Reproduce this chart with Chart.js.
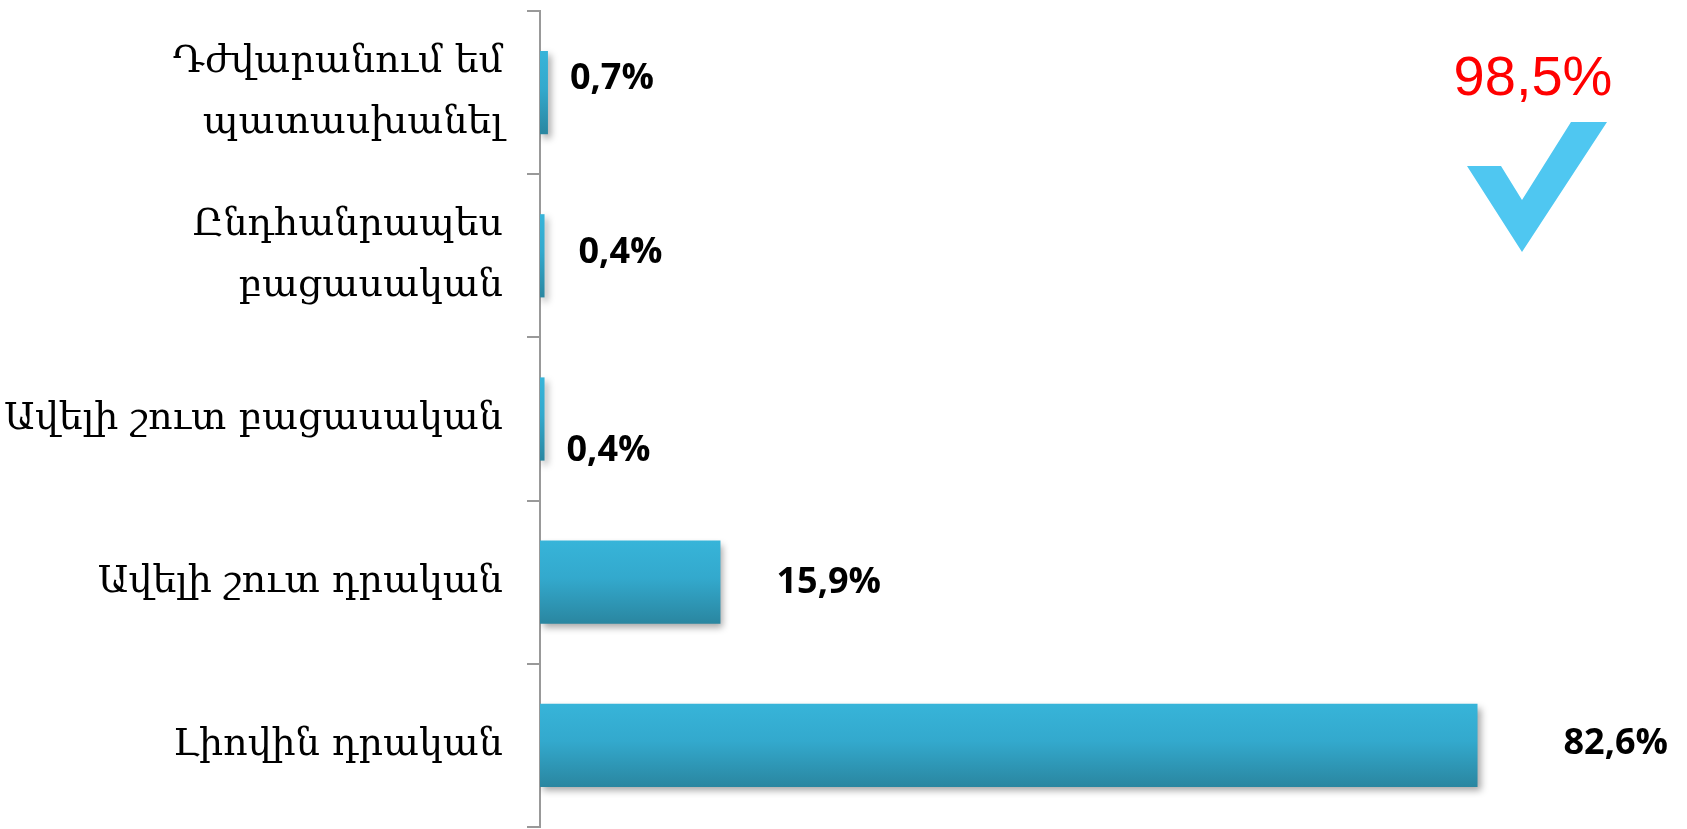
<!DOCTYPE html>
<html>
<head>
<meta charset="utf-8">
<script src="https://cdn.jsdelivr.net/npm/chart.js@4.4.1/dist/chart.umd.min.js"></script>
<style>
  html, body { margin: 0; padding: 0; background: #fff; }
  #wrap { width: 1687px; height: 829px; position: relative; }
</style>
</head>
<body>
<div id="wrap"><canvas id="bar-chart"></canvas></div>
<script>
// Categories (top to bottom) and their shares in %
const categories = [
  ["Դժվարանում եմ", "պատասխանել"],
  ["Ընդհանրապես", "բացասական"],
  "Ավելի շուտ բացասական",
  "Ավելի շուտ դրական",
  "Լիովին դրական"
];
const values = [0.7, 0.4, 0.4, 15.9, 82.6];
// the two positive answers are summed for the red callout
const positiveIdx = [3, 4];

function fmt(v) {
  return v.toFixed(1).replace(".", ",") + "%";
}

// hand placed label offsets (px from bar end / bar centre), like the original
const labelOffsets = [
  { dx: 22, dy: -14 },
  { dx: 34, dy: -3 },
  { dx: 22, dy: 32 },
  { dx: 56, dy: 1 },
  { dx: 86, dy: -2 }
];

const barPct = 0.51;

// gradient fill for each bar
function barFill(context) {
  const chart = context.chart;
  if (!chart.chartArea) return "#33aed2";
  const y = chart.scales.y;
  const c = y.getPixelForValue(context.dataIndex);
  const half = (y.height / categories.length) * barPct / 2;
  const g = chart.ctx.createLinearGradient(0, c - half, 0, c + half);
  g.addColorStop(0, "#37b4d9");
  g.addColorStop(0.45, "#33a9cd");
  g.addColorStop(1, "#2a86a0");
  return g;
}

const barDecor = {
  id: "barDecor",
  beforeDatasetsDraw(chart) {
    const ctx = chart.ctx;
    ctx.save();
    ctx.shadowColor = "rgba(0,0,0,0.35)";
    ctx.shadowBlur = 7;
    ctx.shadowOffsetX = 3;
    ctx.shadowOffsetY = 4;
  },
  afterDatasetsDraw(chart) {
    const ctx = chart.ctx;
    ctx.restore();

    // value labels
    const meta = chart.getDatasetMeta(0);
    ctx.save();
    ctx.fillStyle = "#000";
    ctx.font = "bold 36px 'Open Sans'";
    ctx.textAlign = "left";
    ctx.textBaseline = "middle";
    meta.data.forEach((bar, i) => {
      const off = labelOffsets[i];
      ctx.fillText(fmt(values[i]), bar.x + off.dx, bar.y + off.dy);
    });
    ctx.restore();

    // red total + check mark
    const total = positiveIdx.reduce((s, i) => s + values[i], 0);
    ctx.save();
    ctx.fillStyle = "#ff0000";
    ctx.font = "56px 'Liberation Sans'";
    ctx.textAlign = "center";
    ctx.textBaseline = "alphabetic";
    ctx.fillText(fmt(total), 1533, 95);

    ctx.fillStyle = "#4fc7f1";
    ctx.beginPath();
    ctx.moveTo(1467, 166);
    ctx.lineTo(1501, 166);
    ctx.lineTo(1522, 200);
    ctx.lineTo(1571, 122);
    ctx.lineTo(1607, 122);
    ctx.lineTo(1522, 252);
    ctx.closePath();
    ctx.fill();
    ctx.restore();
  }
};

const ctx = document.getElementById("bar-chart").getContext("2d");
new Chart(ctx, {
  type: "bar",
  data: {
    labels: categories,
    datasets: [
      {
        data: values,
        backgroundColor: barFill,
        borderWidth: 0,
        categoryPercentage: 1,
        barPercentage: barPct
      }
    ]
  },
  options: {
    indexAxis: "y",
    responsive: true,
    maintainAspectRatio: false,
    animation: false,
    layout: { padding: { top: 11, bottom: 2, right: 12, left: 0 } },
    plugins: {
      legend: { display: false },
      tooltip: { enabled: false }
    },
    scales: {
      x: {
        display: false,
        min: 0,
        max: 100
      },
      y: {
        offset: true,
        afterFit: function (scale) {
          scale.width = 540;
          // don't let the tall labels push the plot area in
          scale.paddingTop = 0;
          scale.paddingBottom = 0;
        },
        grid: {
          offset: true,
          drawOnChartArea: false,
          tickLength: 13,
          color: "#999999",
          lineWidth: 2
        },
        border: { color: "#999999", width: 2 },
        ticks: {
          color: "#000",
          padding: 24,
          font: { family: "'DejaVu Serif'", size: 38, lineHeight: 1.6 }
        }
      }
    }
  },
  plugins: [barDecor]
});
</script>
</body>
</html>
